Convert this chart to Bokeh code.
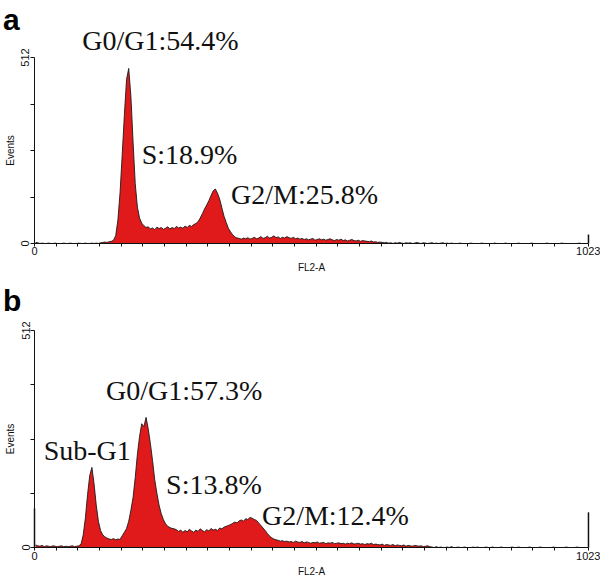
from bokeh.plotting import figure
from bokeh.models import Range1d, FixedTicker, Label, ColumnDataSource
from bokeh.layouts import column
from bokeh.embed import file_html
from bokeh.resources import INLINE

# ---------------- data (events per 4-channel bin of FL2-A) ----------------
BIN = 4
counts_a = (
    [3, 2, 0, 1, 0, 0, 1, 0, 0, 1, 0, 0, 0, 1, 0, 0, 1, 0, 0, 0, 1, 0, 0, 1, 0, 0, 1, 0, 1, 0]
    + [2, 3, 4, 3, 5, 6, 9, 22]
    + [65, 140, 245, 355, 452, 482, 405, 280, 165, 100, 70, 56, 49, 44]
    + [46, 40, 43, 38, 45, 41, 44, 39, 42, 46, 40, 44, 41, 47, 43, 45, 42, 48, 44, 50, 47, 52, 55]
    + [60, 70, 82, 95, 106, 118, 132, 145, 150, 138, 122, 98, 75, 58, 42, 32, 24, 18, 15]
    + [14, 12, 15, 13, 16, 12, 14, 17, 13, 15, 19, 14, 16, 20, 15, 17, 21, 16, 18, 14, 17, 15, 19, 16, 14, 17, 13, 15]
    + [12, 14, 11, 13, 10, 12, 14, 9, 11, 13, 10, 12, 9, 11, 13, 10, 8, 11, 9, 12, 8, 10, 7, 9, 11, 8, 7, 9, 6, 8, 7]
    + [6, 5, 7, 4, 5, 3, 4, 3]
    + [2, 3, 1, 2, 0, 2, 1, 3, 1, 0, 2, 1, 2, 0, 1, 3, 1, 0, 2, 1, 0, 1, 2, 0, 1, 0, 1, 2, 0, 1]
    + [0, 1, 0, 0, 0, 1, 0, 0, 0, 0, 1, 0, 0, 0, 0, 1, 0, 0, 0, 0, 0, 1, 0, 0, 0, 0, 1, 0, 0, 0,
       0, 0, 1, 0, 0, 0, 0, 0, 1, 0, 0, 0, 0, 0, 0, 1, 0, 0, 0, 0, 0, 0, 1, 0, 0, 0, 0, 0, 0, 0,
       1, 0, 0, 0, 0]
)
counts_b = (
    [6, 4, 3, 5, 2, 4, 3, 2, 4, 3, 2, 3, 4, 2, 3, 2, 3, 4, 2, 3]
    + [4, 8, 30]
    + [70, 125, 170, 189, 150, 100, 62, 40, 30]
    + [25, 22, 20, 19, 21, 18, 20, 19, 28, 36]
    + [45, 62, 88, 118, 165, 220, 262, 292, 285, 307]
    + [280, 245, 205, 160, 128, 100, 80, 66, 56, 50, 47, 45, 44]
    + [42, 38, 41, 36, 40, 37, 43, 39, 36, 41, 38, 44, 40, 37, 42, 39, 45, 41, 43, 40, 46, 44, 48, 50, 52]
    + [54, 57, 60, 58, 63, 65, 62, 68, 66, 71, 69, 66, 64, 58, 52, 46, 40, 33, 27, 23, 20, 18]
    + [17, 15, 16, 14, 15, 13, 14, 12, 15, 13, 12, 14, 11, 13, 12, 10, 12, 11, 13, 10, 11, 12, 9, 11,
       10, 12, 9, 10, 11, 9, 10, 8, 10, 9, 11, 8, 9, 10, 8, 9, 7, 9, 8, 10, 7, 8]
    + [7, 6, 8, 5, 7, 6, 5, 7, 4, 6, 5, 4, 6, 3, 5, 4, 3, 5, 4, 3, 4, 2, 3, 4, 2]
    + [1, 0, 2, 0, 1, 0, 0, 1, 0, 2, 0, 0, 1, 0, 0, 1, 0, 0, 0, 1, 0, 1, 0, 0, 0, 1, 0, 0, 1, 0,
       0, 0, 1, 0, 0, 0, 0, 1, 0, 0, 1, 0, 0, 0, 0, 1, 0, 0, 0, 0, 1, 0, 0, 0, 0, 0, 1, 0, 0, 0,
       0, 0, 1, 0, 0, 0, 0, 1, 0, 0, 0, 0, 0]
)
# single-channel spikes at both ends of the scale (channel 0 and channel 1023)
edge_channels = [0, 1023]
edge_counts_a = [0, 25]
edge_counts_b = [92, 83]

phase_texts_a = ["G0/G1:54.4%", "S:18.9%", "G2/M:25.8%"]
phase_texts_b = ["G0/G1:57.3%", "Sub-G1", "S:13.8%", "G2/M:12.4%"]

x_tick_values = list(range(0, 961, 40)) + [1023]
x_tick_labels = {0: "0", 1023: "1023"}
y_tick_values = [0, 128, 256, 384, 512]
y_tick_labels = {0: "0", 512: "512"}

RED = "#e0191b"
SERIF = "Liberation Serif"
SANS = "Liberation Sans"


def make_panel(counts, edge_counts, frame_h, y_start, y_end, letter, letter_y, texts, text_pos):
    xs = [BIN * i + BIN / 2 for i in range(len(counts))]
    src = ColumnDataSource(dict(x=xs, y=counts))
    p = figure(frame_width=600, frame_height=frame_h, output_backend="svg",
               toolbar_location=None, x_range=Range1d(-62.8, 1045.2),
               y_range=Range1d(y_start, y_end),
               min_border_left=0, min_border_right=0, min_border_top=0, min_border_bottom=0)
    p.outline_line_color = None
    p.grid.visible = False
    p.background_fill_color = "white"
    p.border_fill_color = "white"

    p.varea(x="x", y1=0, y2="y", source=src, fill_color=RED)
    p.line(x="x", y="y", source=src, line_color="#1a1a1a", line_width=0.9)
    p.segment(x0=edge_channels, y0=[0, 0], x1=edge_channels, y1=edge_counts,
              line_color="#111111", line_width=1.5)

    xa = p.xaxis[0]
    xa.fixed_location = 0
    xa.ticker = FixedTicker(ticks=x_tick_values)
    xa.major_label_overrides = {t: x_tick_labels.get(t, "") for t in x_tick_values}
    xa.bounds = (0, 1023)
    xa.axis_label = "FL2-A"
    xa.major_tick_out = 3
    xa.major_tick_in = 0
    xa.minor_tick_line_color = None
    xa.major_label_standoff = 1
    xa.axis_label_standoff = 3
    xa.axis_line_color = "#111111"
    xa.major_tick_line_color = "#111111"

    ya = p.yaxis[0]
    ya.fixed_location = 0
    ya.ticker = FixedTicker(ticks=y_tick_values)
    ya.major_label_overrides = {t: y_tick_labels.get(t, "") for t in y_tick_values}
    ya.bounds = (0, 512)
    ya.axis_label = "Events"
    ya.major_tick_out = 4
    ya.major_tick_in = 0
    ya.minor_tick_line_color = None
    ya.major_label_orientation = "vertical"
    ya.major_label_standoff = 1
    ya.axis_label_standoff = 3
    ya.axis_line_color = "#111111"
    ya.major_tick_line_color = "#111111"

    for ax in (xa, ya):
        ax.major_label_text_font = SANS
        ax.major_label_text_font_size = "11px"
        ax.major_label_text_color = "#111111"
        ax.axis_label_text_font = SANS
        ax.axis_label_text_font_size = "10px"
        ax.axis_label_text_font_style = "normal"
        ax.axis_label_text_color = "#111111"

    p.add_layout(Label(x=-58, y=letter_y, text=letter, text_font=SANS,
                       text_font_size="30px", text_font_style="bold",
                       text_color="black", text_baseline="alphabetic"))
    for t, (tx, ty) in zip(texts, text_pos):
        p.add_layout(Label(x=tx, y=ty, text=t, text_font=SERIF, text_font_size="28px",
                           text_color="#111111", text_baseline="alphabetic"))
    return p


pa = make_panel(counts_a, edge_counts_a, 273, -82.6, 669, "a", 617, phase_texts_a,
                [(88, 559), (198, 245), (363, 135)])
pb = make_panel(counts_b, edge_counts_b, 306, -75.5, 646.5, "b", 583, phase_texts_b,
                [(132, 370), (17, 229), (243, 149), (420, 76)])

layout = column(pa, pb, spacing=0)
open("out.html", "w").write(file_html(layout, INLINE))
